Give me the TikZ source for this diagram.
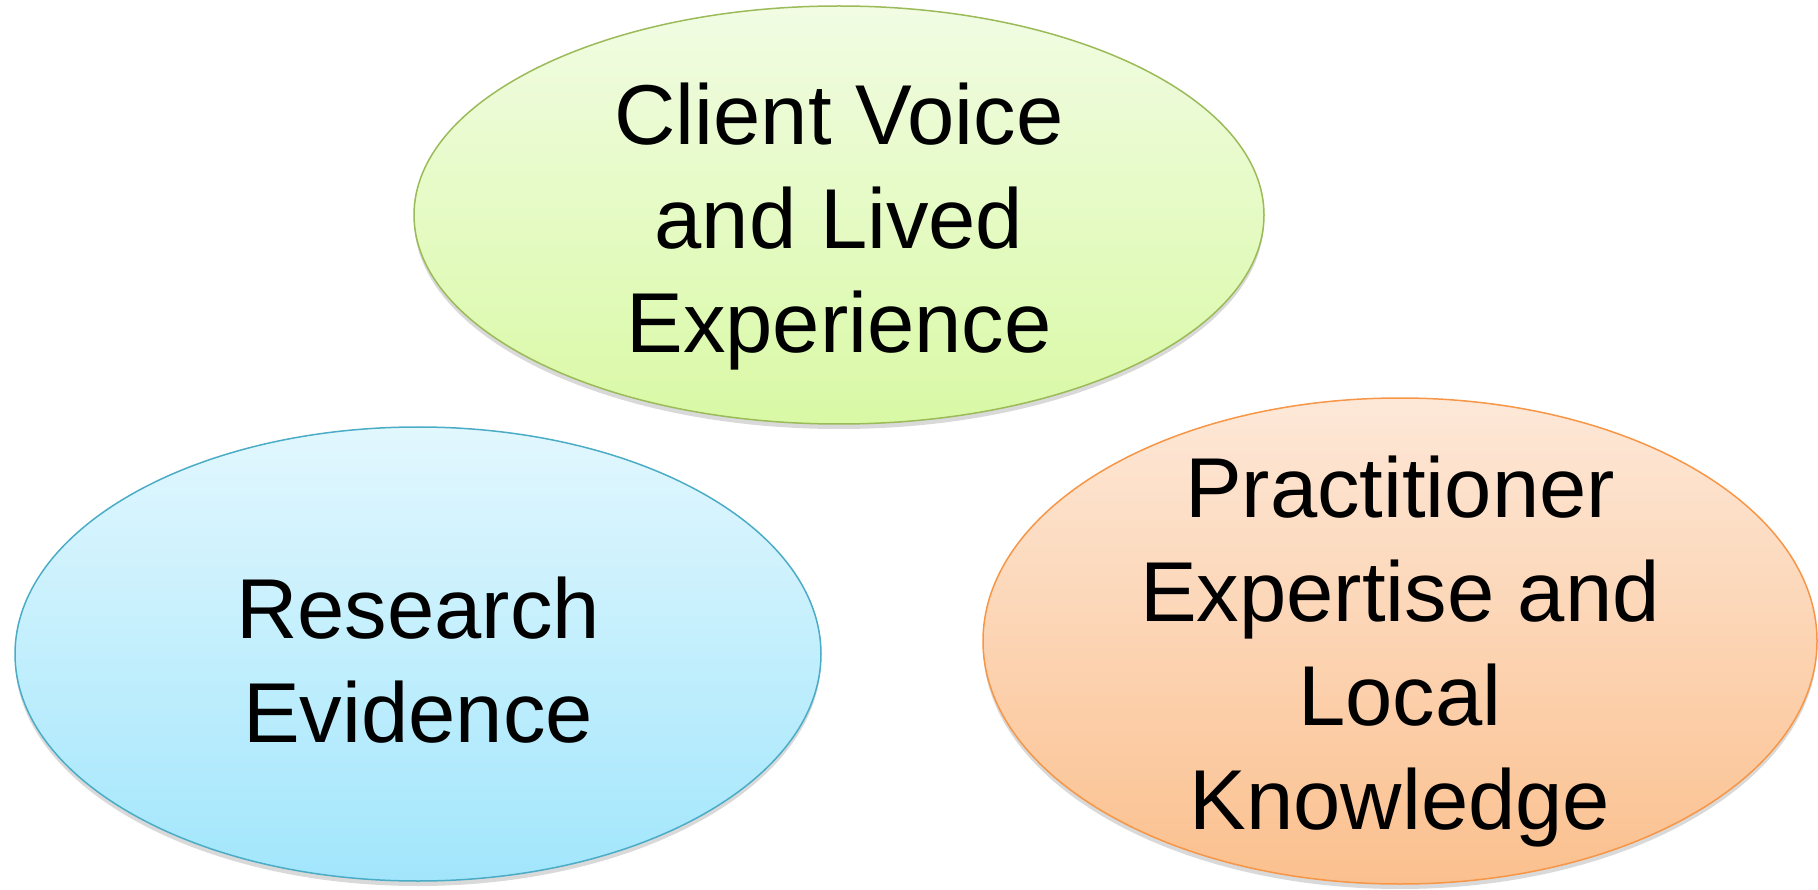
\documentclass[tikz,border=0pt]{standalone}
\usepackage{fontspec}
\setmainfont{Liberation Sans}
\usetikzlibrary{shapes.geometric,shadows}
\definecolor{gtop}{HTML}{F1FCE3}
\definecolor{gbot}{HTML}{D9F9A5}
\definecolor{gline}{HTML}{9BBB59}
\definecolor{btop}{HTML}{E2F7FE}
\definecolor{bbot}{HTML}{A2E6FC}
\definecolor{bline}{HTML}{4BACC6}
\definecolor{otop}{HTML}{FDE8D8}
\definecolor{obot}{HTML}{FBC08E}
\definecolor{oline}{HTML}{F79646}
\tikzset{
  oval/.style={ellipse, inner sep=0pt, line width=1.5pt,
    drop shadow={shadow xshift=0pt, shadow yshift=-5pt, opacity=0.3}},
  txt/.style={align=center, inner sep=0pt, font=\fontsize{85}{104}\selectfont},
}
\begin{document}
\begin{tikzpicture}[x=1pt,y=-1pt]
\useasboundingbox (0,0) rectangle (1818,890);
\node[oval, draw=gline, top color=gtop, bottom color=gbot,
  minimum width=850pt, minimum height=418pt] (client) at (839,215) {};
\node[txt] (clientt) at ([yshift=-12pt]client.center) {Client Voice\\and Lived\\Experience};
\node[oval, draw=bline, top color=btop, bottom color=bbot,
  minimum width=806pt, minimum height=454pt] (research) at (418,654) {};
\node[txt] (researcht) at ([yshift=-6pt]research.center) {Research\\Evidence};
\node[oval, draw=oline, top color=otop, bottom color=obot,
  minimum width=834pt, minimum height=486pt] (practice) at (1400,641) {};
\node[txt] (practicet) at ([yshift=-11pt]practice.center) {Practitioner\\Expertise and\\Local\\Knowledge};
\end{tikzpicture}
\end{document}
